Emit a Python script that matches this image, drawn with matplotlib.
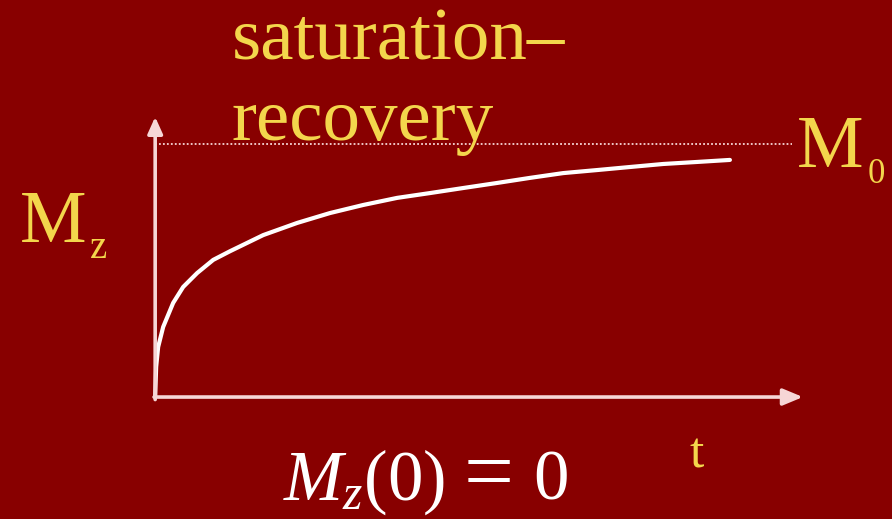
import numpy as np
import matplotlib.pyplot as plt

# saturation-recovery curve (t in arbitrary units, Mz / M0)
t = [0, 0.017, 0.052, 0.139, 0.313, 0.487, 0.73, 1.01, 1.30, 1.88, 2.47,
     3.04, 3.62, 4.21, 4.78, 5.36, 5.95, 6.52, 7.10, 7.69, 8.26, 8.84, 9.43, 10.0]
mz = [0, 0.119, 0.198, 0.277, 0.372, 0.435, 0.49, 0.542, 0.576, 0.640, 0.688,
      0.727, 0.759, 0.787, 0.806, 0.826, 0.846, 0.866, 0.885, 0.897, 0.909, 0.921, 0.929, 0.937]
m0 = 1.0

title_lines = ["saturation\u2013", "recovery"]

bg = "#880000"
yellow = "#f3d64c"
axis_col = "#f6d6d6"
serif = "Liberation Serif"

plt.rcParams['mathtext.fontset'] = 'custom'
plt.rcParams['mathtext.rm'] = 'Liberation Serif'
plt.rcParams['mathtext.it'] = 'Liberation Serif:italic'

fig = plt.figure(figsize=(8.92, 5.19), dpi=100)
fig.patch.set_facecolor(bg)
ax = fig.add_axes([0, 0, 1, 1])
ax.set_facecolor(bg)
ax.set_xlim(-2.70, 12.82)
ax.set_ylim(-0.482, 1.569)
ax.axis('off')

# axes with arrows
ax.annotate("", xy=(11.27, 0), xytext=(-0.02, 0),
            arrowprops=dict(arrowstyle="-|>,head_length=1.2,head_width=0.5",
                            color=axis_col, lw=2.6, shrinkA=0, shrinkB=0))
ax.annotate("", xy=(0, 1.107), xytext=(0, -0.01),
            arrowprops=dict(arrowstyle="-|>,head_length=1.0,head_width=0.45",
                            color=axis_col, lw=2.6, shrinkA=0, shrinkB=0))

# M0 dotted level
ax.plot([0, 11.08], [m0, m0], color=axis_col, lw=1.3, ls=(0, (1, 1.2)))

# recovery curve
ax.plot(t, mz, color="white", lw=3, solid_capstyle='round', solid_joinstyle='round')


def put(x, y, s, size, color=yellow, **kw):
    ax.text(x / 892, 1 - y / 519, s, transform=ax.transAxes, fontsize=size,
            color=color, va='baseline', ha=kw.pop('ha', 'left'), **kw)


put(232, 60, title_lines[0], 54, family=serif)
put(232, 140, title_lines[1], 54, family=serif)

put(20, 242, "M", 54, family=serif)
put(90, 258, "z", 28, family=serif)
put(797, 167, "M", 54, family=serif)
put(868, 183, "0", 25, family=serif)
put(690, 468, "t", 37, family=serif)

put(283, 500, r"$M_z(0)$", 51, color="white")
put(489, 500, "=", 64, color="white", family=serif, ha='center')
put(533, 500, "0", 51, color="white", family=serif)

fig.savefig("out.png", dpi=100, facecolor=bg)
